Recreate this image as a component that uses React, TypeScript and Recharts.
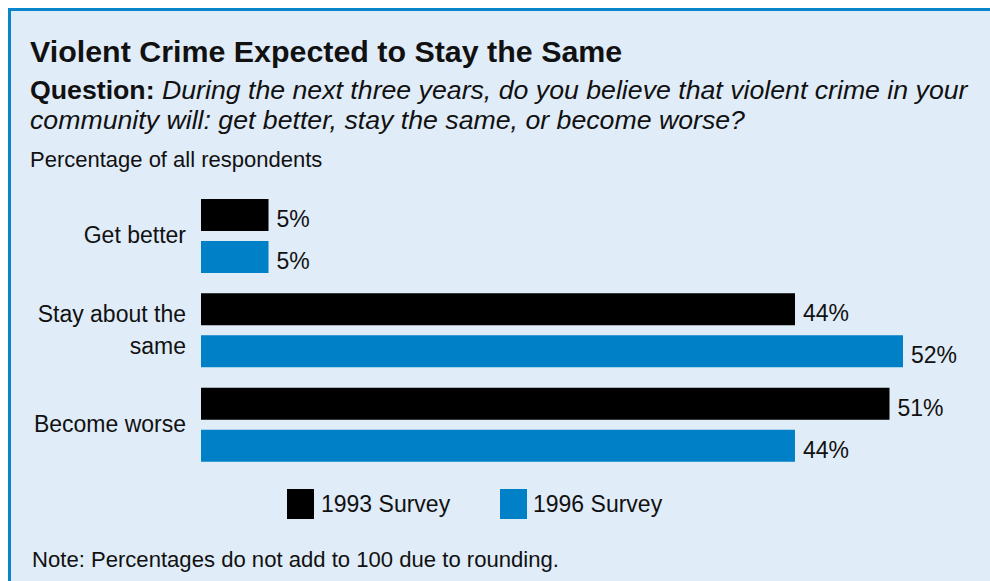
import React from 'react';
import { BarChart, Bar, XAxis, YAxis, Legend, LabelList } from 'recharts';

const categories = ['Get better', 'Stay about the same', 'Become worse'];
const categoryLines = [['Get better'], ['Stay about the', 'same'], ['Become worse']];
const survey1993 = [5, 44, 51];
const survey1996 = [5, 52, 44];
const seriesNames = ['1993 Survey', '1996 Survey'];
const seriesColors = ['#000000', '#0080c6'];

const data = categories.map((name, i) => ({ name, s1993: survey1993[i], s1996: survey1996[i] }));

const FONT = '"Liberation Sans", Arial, Helvetica, sans-serif';
const TEXT = '#111111';

const CategoryTick = (props: any) => {
  const { x, y, index } = props;
  const lines = categoryLines[index] || [String(props.payload?.value ?? '')];
  const lineH = 32;
  const first = y + 7 - ((lines.length - 1) * lineH) / 2;
  return (
    <g>
      {lines.map((l: string, i: number) => (
        <text key={i} x={x} y={first + i * lineH} textAnchor="end" fontFamily={FONT} fontSize={23} fill={TEXT}>
          {l}
        </text>
      ))}
    </g>
  );
};

const ValueLabel = (props: any) => {
  const { x, y, width, height, value } = props;
  return (
    <text x={x + width + 8} y={y + height / 2 + 12} fontFamily={FONT} fontSize={23} fill={TEXT}>
      {`${value}%`}
    </text>
  );
};

const LegendContent = () => {
  const items = [
    { name: seriesNames[0], color: seriesColors[0], rx: 276, tx: 310 },
    { name: seriesNames[1], color: seriesColors[1], rx: 489, tx: 522 },
  ];
  return (
    <div style={{ position: 'relative', width: '100%', height: '100%' }}>
      {items.map((it) => (
        <React.Fragment key={it.name}>
          <div style={{ position: 'absolute', left: it.rx, top: 8, width: 27, height: 30, background: it.color }} />
          <div
            style={{
              position: 'absolute',
              left: it.tx,
              top: 8,
              height: 30,
              lineHeight: '30px',
              fontFamily: FONT,
              fontSize: 23,
              color: TEXT,
              whiteSpace: 'nowrap',
            }}
          >
            {it.name}
          </div>
        </React.Fragment>
      ))}
    </div>
  );
};

export default function App() {
  const textBase: React.CSSProperties = {
    position: 'absolute',
    whiteSpace: 'nowrap',
    fontFamily: FONT,
    color: TEXT,
    margin: 0,
  };
  return (
    <div
      style={{
        position: 'absolute',
        left: 8,
        top: 8,
        width: 982,
        height: 573,
        boxSizing: 'border-box',
        background: '#e0ecf8',
        borderLeft: '3px solid #0a84cc',
        borderTop: '3px solid #0a84cc',
        overflow: 'hidden',
      }}
    >
      <div style={{ ...textBase, left: 19, top: 25.3, fontSize: 30.4, lineHeight: '30.4px', fontWeight: 'bold' }}>
        Violent Crime Expected to Stay the Same
      </div>
      <div style={{ ...textBase, left: 19, top: 66.4, fontSize: 26.7, lineHeight: '26.7px' }}>
        <span style={{ fontWeight: 'bold' }}>Question:</span>{' '}
        <span style={{ fontStyle: 'italic' }}>
          During the next three years, do you believe that violent crime in your
        </span>
      </div>
      <div style={{ ...textBase, left: 19, top: 96.4, fontSize: 26.7, lineHeight: '26.7px', fontStyle: 'italic' }}>
        community will: get better, stay the same, or become worse?
      </div>
      <div style={{ ...textBase, left: 19, top: 138.4, fontSize: 22, lineHeight: '22px' }}>
        Percentage of all respondents
      </div>
      <div style={{ ...textBase, left: 21, top: 538.3, fontSize: 22.1, lineHeight: '22.1px' }}>
        Note: Percentages do not add to 100 due to rounding.
      </div>
      <div style={{ position: 'absolute', left: 0, top: 0 }}>
        <BarChart
          layout="vertical"
          width={970}
          height={560}
          data={data}
          margin={{ top: 178, right: 37.5, bottom: 99, left: 0 }}
          barGap={10}
          barSize={32}
        >
          <XAxis type="number" domain={[0, 55]} hide />
          <YAxis
            type="category"
            dataKey="name"
            width={190}
            axisLine={false}
            tickLine={false}
            tickSize={0}
            tickMargin={15}
            tick={<CategoryTick />}
            interval={0}
          />
          <Legend
            layout="horizontal"
            verticalAlign="middle"
            align="center"
            content={<LegendContent />}
            wrapperStyle={{ top: 470, left: 0, right: 'auto', bottom: 'auto', width: 970, height: 60 }}
          />
          <Bar dataKey="s1993" name={seriesNames[0]} fill={seriesColors[0]} isAnimationActive={false}>
            <LabelList dataKey="s1993" content={<ValueLabel />} />
          </Bar>
          <Bar dataKey="s1996" name={seriesNames[1]} fill={seriesColors[1]} isAnimationActive={false}>
            <LabelList dataKey="s1996" content={<ValueLabel />} />
          </Bar>
        </BarChart>
      </div>
    </div>
  );
}
